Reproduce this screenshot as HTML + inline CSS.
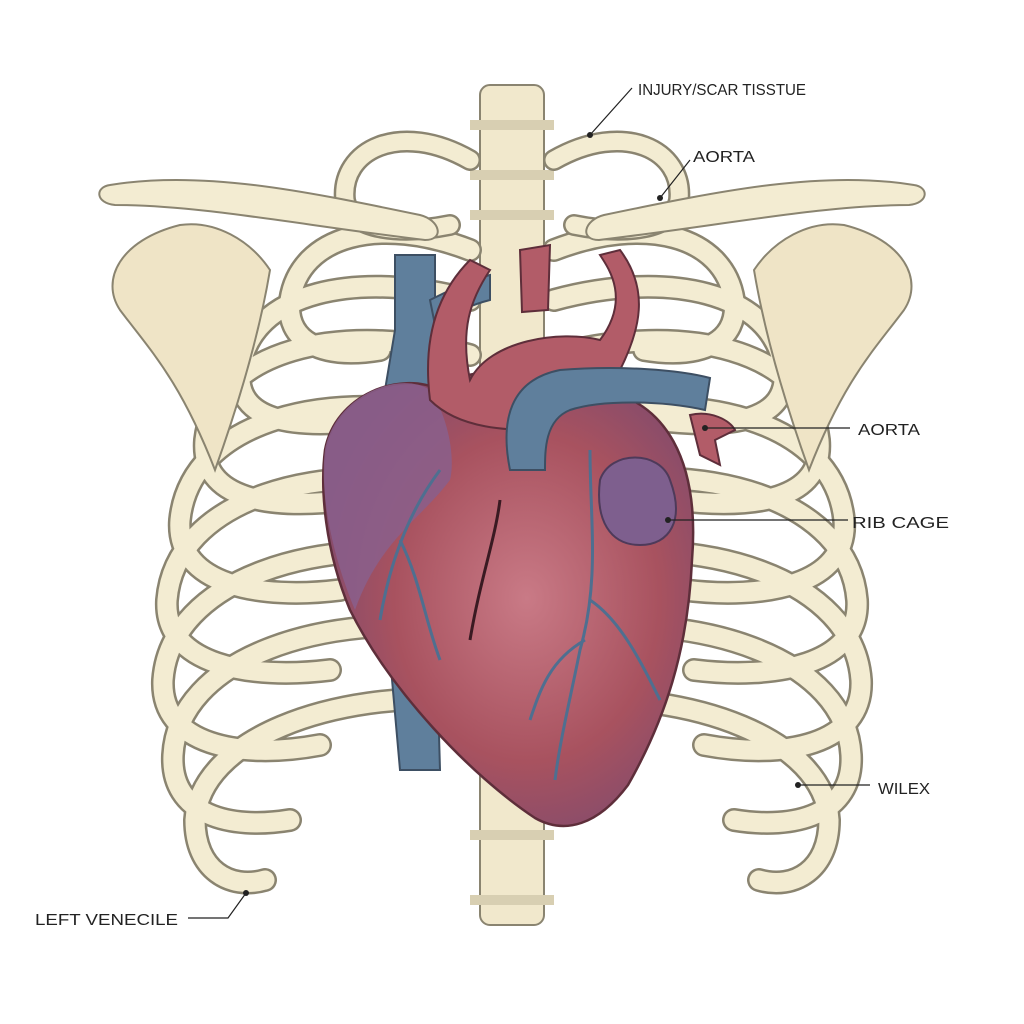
<!DOCTYPE html>
<html><head><meta charset="utf-8"><style>
html,body{margin:0;padding:0;background:#fff;}
svg{display:block}
text{font-family:"Liberation Sans",sans-serif;font-size:16px;fill:#222;}
</style></head><body>
<svg width="1024" height="1024" viewBox="0 0 1024 1024" xmlns="http://www.w3.org/2000/svg">
<defs>
<radialGradient id="hg" cx="0.55" cy="0.5" r="0.6">
<stop offset="0" stop-color="#c97a86"/><stop offset="0.6" stop-color="#a8525f"/><stop offset="1" stop-color="#7e4a6e"/></radialGradient>
<g id="ribs" fill="none" stroke-linecap="round">
<g stroke="#8a8470" stroke-width="24">
<path d="M470 250 C380 215,300 235,290 300 C285 340,320 360,380 350"/>
<path d="M470 300 C360 270,250 290,240 370 C235 420,290 430,370 420"/>
<path d="M470 355 C340 320,215 350,205 440 C200 500,270 510,350 500"/>
<path d="M470 420 C330 385,190 420,180 520 C175 585,260 600,340 590"/>
<path d="M470 490 C320 455,175 500,167 600 C163 665,250 680,330 670"/>
<path d="M470 560 C320 530,170 580,163 680 C160 745,240 760,320 745"/>
<path d="M470 630 C320 610,178 660,173 755 C170 815,230 830,290 820"/>
<path d="M470 700 C330 690,200 740,195 820 C195 870,230 890,265 880"/>
</g>
<g stroke="#f3ecd2" stroke-width="19">
<path d="M470 250 C380 215,300 235,290 300 C285 340,320 360,380 350"/>
<path d="M470 300 C360 270,250 290,240 370 C235 420,290 430,370 420"/>
<path d="M470 355 C340 320,215 350,205 440 C200 500,270 510,350 500"/>
<path d="M470 420 C330 385,190 420,180 520 C175 585,260 600,340 590"/>
<path d="M470 490 C320 455,175 500,167 600 C163 665,250 680,330 670"/>
<path d="M470 560 C320 530,170 580,163 680 C160 745,240 760,320 745"/>
<path d="M470 630 C320 610,178 660,173 755 C170 815,230 830,290 820"/>
<path d="M470 700 C330 690,200 740,195 820 C195 870,230 890,265 880"/>
</g>
<path d="M470 160 C400 120,340 150,345 200 C350 230,400 235,450 225" stroke="#8a8470" stroke-width="22"/>
<path d="M470 160 C400 120,340 150,345 200 C350 230,400 235,450 225" stroke="#f3ecd2" stroke-width="17"/>
<path d="M180 225 C120 240,100 280,120 310 C150 350,180 380,215 470 C240 400,260 330,270 270 C250 240,215 220,180 225Z" fill="#efe4c6" stroke="#8a8470" stroke-width="2"/>
<path d="M110 185 C200 170,300 190,420 215 C440 220,445 240,425 240 C300 225,200 205,115 205 C95 203,95 187,110 185Z" fill="#f3ecd2" stroke="#8a8470" stroke-width="2"/>
</g>
</defs>
<rect width="1024" height="1024" fill="#fff"/>
<rect x="480" y="85" width="64" height="840" fill="#f1e8cc" stroke="#8a8470" stroke-width="2" rx="10"/>
<g fill="#d8cfb2"><rect x="470" y="120" width="84" height="10"/><rect x="470" y="170" width="84" height="10"/><rect x="470" y="210" width="84" height="10"/><rect x="470" y="830" width="84" height="10"/><rect x="470" y="895" width="84" height="10"/></g>
<use href="#ribs"/>
<use href="#ribs" transform="translate(1024,0) scale(-1,1)"/>
<path d="M395 255 L435 255 L435 330 L430 420 L440 770 L400 770 L385 600 L380 420 L395 330Z" fill="#5f7f9c" stroke="#3d4f63" stroke-width="2"/>
<path d="M430 300 C450 290,470 280,490 275 L490 300 C470 305,450 315,435 325Z" fill="#5f7f9c" stroke="#3d4f63" stroke-width="2"/>
<path d="M325 450 C335 395,400 370,440 390 C470 360,550 370,600 390 C665 400,700 460,692 560 C688 650,665 720,628 785 C598 825,565 835,535 818 C470 775,390 690,350 610 C325 550,320 490,325 450Z" fill="url(#hg)" stroke="#5e2e3a" stroke-width="2.5"/>
<path d="M325 450 C335 395,400 370,430 390 C450 420,455 460,450 480 C420 520,380 540,355 610 C330 550,320 490,325 450Z" fill="#8a5f8c" opacity="0.85"/>
<path d="M430 400 C420 320,450 280,470 260 L490 270 C470 300,460 330,470 380 C490 340,560 330,600 340 C630 300,610 270,600 255 L620 250 C650 290,640 330,620 370 C580 380,550 400,540 430 C510 430,460 430,430 400Z" fill="#b25c68" stroke="#5e2e3a" stroke-width="2"/>
<path d="M520 250 L550 245 L548 310 L522 312Z" fill="#b25c68" stroke="#5e2e3a" stroke-width="2"/>
<path d="M510 470 C500 420,510 380,560 370 C620 365,680 370,710 378 L705 410 C660 400,600 400,570 410 C545 420,545 450,545 470Z" fill="#5f7f9c" stroke="#3d4f63" stroke-width="2"/>
<path d="M690 415 C710 410,730 420,735 430 L715 440 L720 465 L700 455Z" fill="#b25c68" stroke="#5e2e3a" stroke-width="2"/>
<path d="M600 480 C610 450,660 450,670 480 C685 520,670 545,640 545 C610 545,595 520,600 480Z" fill="#7e5f8e" stroke="#4e3a5a" stroke-width="2"/>
<g fill="none" stroke="#4e6f90" stroke-width="3">
<path d="M440 470 C410 510,390 560,380 620 M400 540 C420 580,425 620,440 660"/>
<path d="M590 450 C590 520,600 580,580 650 C570 700,560 740,555 780 M590 600 C620 620,640 660,660 700 M585 640 C550 660,540 690,530 720"/>
</g>
<path d="M500 500 C495 540,480 580,470 640" stroke="#3a1a22" stroke-width="3" fill="none"/>
<g stroke="#222" stroke-width="1.2" fill="none">
<path d="M590 135 L632 88"/><path d="M660 198 L690 160"/><path d="M705 428 L850 428"/><path d="M668 520 L848 520"/><path d="M798 785 L870 785"/><path d="M188 918 L228 918 L246 893"/>
</g>
<g fill="#222"><circle cx="590" cy="135" r="3"/><circle cx="660" cy="198" r="3"/><circle cx="705" cy="428" r="3"/><circle cx="668" cy="520" r="3"/><circle cx="798" cy="785" r="3"/><circle cx="246" cy="893" r="3"/></g>
<text x="638" y="95" textLength="168" lengthAdjust="spacingAndGlyphs">INJURY/SCAR TISSTUE</text>
<text x="693" y="162" textLength="62" lengthAdjust="spacingAndGlyphs">AORTA</text>
<text x="858" y="435" textLength="62" lengthAdjust="spacingAndGlyphs">AORTA</text>
<text x="852" y="528" textLength="97" lengthAdjust="spacingAndGlyphs">RIB CAGE</text>
<text x="878" y="794" textLength="52" lengthAdjust="spacingAndGlyphs">WILEX</text>
<text x="35" y="925" textLength="143" lengthAdjust="spacingAndGlyphs">LEFT VENECILE</text>
</svg>
</body></html>
